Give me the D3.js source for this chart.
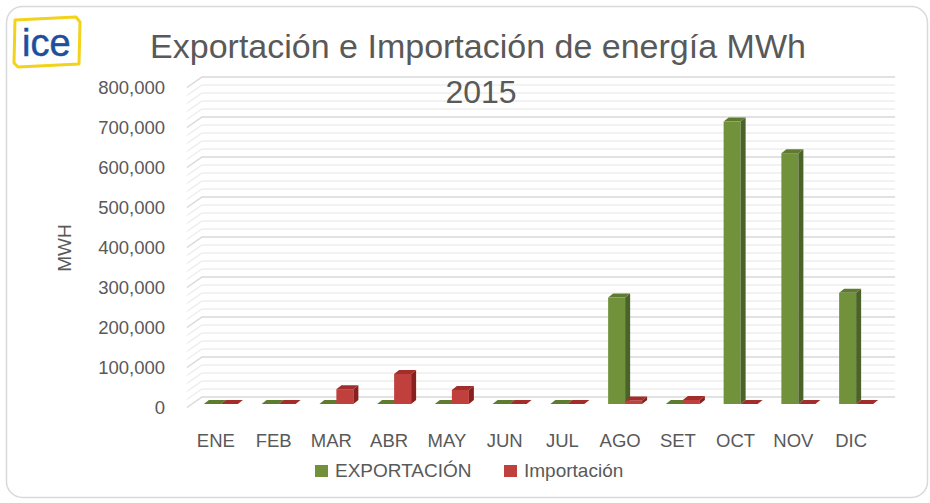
<!DOCTYPE html>
<meta charset="utf-8">
<style>
body { margin: 0; background: #fff; }
text { font-family: "Liberation Sans", Arial, sans-serif; fill: #595959; }
</style>
<body>
<script src="https://cdn.jsdelivr.net/npm/d3@7"></script>
<script>

var months = ["ENE", "FEB", "MAR", "ABR", "MAY", "JUN", "JUL", "AGO", "SET", "OCT", "NOV", "DIC"],
	exportacion = [0, 0, 0, 0, 0, 0, 0, 266000, 0, 706000, 627000, 278000],
	importacion = [0, 0, 37000, 75000, 35000, 0, 0, 9000, 10000, 0, 0, 0],
	seriesNames = ["EXPORTACIÓN", "Importación"],
	yTicks = [0, 100000, 200000, 300000, 400000, 500000, 600000, 700000, 800000];

var width = 930,
	height = 503,
	depth = [15, -10.5],      // front plane -> back wall
	barShift = [5, -3.5],     // front plane -> front face of bars
	barDepth = [5, -4],
	colors = [
		{ front: "#71913b", side: "#4a6328", top: "#5e7b30" },
		{ front: "#c0403e", side: "#87201e", top: "#a12e2b" }
	];

var svg = d3.select("body").append("svg")
	.attr("width", width)
	.attr("height", height);

// outer frame
svg.append("rect")
	.attr("x", 6.5).attr("y", 6.5)
	.attr("width", 921).attr("height", 491)
	.attr("rx", 16)
	.attr("fill", "#fff")
	.attr("stroke", "#d9d9d9")
	.attr("stroke-width", 1.5);

// logo
var logo = svg.append("g");
logo.append("path")
	.attr("d", "M15,20 L76,17 L80,22 L79,64 L18,67 L14,63 Z")
	.attr("fill", "#fff")
	.attr("stroke", "#f2d21a")
	.attr("stroke-width", 3)
	.attr("stroke-linejoin", "round");
logo.append("text")
	.attr("x", 22).attr("y", 56)
	.style("font-size", "38px")
	.style("fill", "#1d4f9d")
	.style("stroke", "#1d4f9d")
	.style("stroke-width", 0.5)
	.text("ice");

var x = d3.scaleBand()
	.domain(months)
	.range([187, 880]);

var y = d3.scaleLinear()
	.domain([0, 800000])
	.range([407.5, 87.5]);

// gridlines on side and back wall
var gridVals = d3.range(0, 800001, 20000);
svg.append("g").selectAll("polyline")
	.data(gridVals)
	.enter().append("polyline")
	.attr("points", function(d) {
		var yf = y(d), yb = yf + depth[1];
		return [x.range()[0], yf, x.range()[0] + depth[0], yb, x.range()[1] + depth[0], yb].join(" ");
	})
	.attr("fill", "none")
	.attr("stroke", function(d) { return d % 100000 === 0 ? "#d9d9d9" : "#eeeeee"; })
	.attr("stroke-width", 1.5);

// title (drawn over the wall)
svg.append("text")
	.attr("x", 478).attr("y", 58)
	.attr("text-anchor", "middle")
	.style("font-size", "34px")
	.text("Exportación e Importación de energía MWh");
svg.append("text")
	.attr("x", 481).attr("y", 103)
	.attr("text-anchor", "middle")
	.style("font-size", "32px")
	.text("2015");

// y tick labels
svg.append("g").selectAll("text")
	.data(yTicks)
	.enter().append("text")
	.attr("x", 165)
	.attr("y", function(d) { return y(d); })
	.attr("dy", "0.35em")
	.attr("text-anchor", "end")
	.style("font-size", "18.5px")
	.text(d3.format(","));

// y axis title
svg.append("text")
	.attr("transform", "translate(71,248) rotate(-90)")
	.attr("text-anchor", "middle")
	.style("font-size", "19px")
	.text("MWH");

// x labels
svg.append("g").selectAll("text")
	.data(months)
	.enter().append("text")
	.attr("x", function(d) { return x(d) + x.bandwidth() / 2; })
	.attr("y", 447)
	.attr("text-anchor", "middle")
	.style("font-size", "18.5px")
	.text(function(d) { return d; });

// 3D bars
var barW = 17;
var bars = [];
months.forEach(function(m, i) {
	[exportacion[i], importacion[i]].forEach(function(v, s) {
		bars.push({ month: m, value: v, s: s });
	});
});

var bar = svg.append("g").selectAll("g")
	.data(bars)
	.enter().append("g");

function geom(d) {
	var x0 = x(d.month) + x.bandwidth() / 2 - barW + d.s * barW + barShift[0],
		x1 = x0 + barW,
		yb = y(0) + barShift[1],
		yt = y(d.value) + barShift[1];
	return { x0: x0, x1: x1, yb: yb, yt: yt };
}

bar.append("rect")
	.attr("x", function(d) { return geom(d).x0; })
	.attr("y", function(d) { return geom(d).yt; })
	.attr("width", barW)
	.attr("height", function(d) { var g = geom(d); return g.yb - g.yt; })
	.attr("fill", function(d) { return colors[d.s].front; });

bar.append("path")
	.attr("d", function(d) {
		var g = geom(d);
		return "M" + g.x1 + "," + g.yb + "L" + g.x1 + "," + g.yt +
			"L" + (g.x1 + barDepth[0]) + "," + (g.yt + barDepth[1]) +
			"L" + (g.x1 + barDepth[0]) + "," + (g.yb + barDepth[1]) + "Z";
	})
	.attr("fill", function(d) { return colors[d.s].side; });

bar.append("path")
	.attr("d", function(d) {
		var g = geom(d);
		return "M" + g.x0 + "," + g.yt + "L" + g.x1 + "," + g.yt +
			"L" + (g.x1 + barDepth[0]) + "," + (g.yt + barDepth[1]) +
			"L" + (g.x0 + barDepth[0]) + "," + (g.yt + barDepth[1]) + "Z";
	})
	.attr("fill", function(d) { return colors[d.s].top; });

// legend
var legend = svg.append("g").selectAll("g")
	.data(seriesNames)
	.enter().append("g")
	.attr("transform", function(d, i) { return "translate(" + [315, 504][i] + ",465)"; });

legend.append("rect")
	.attr("width", 13).attr("height", 12)
	.attr("fill", function(d, i) { return colors[i].front; });

legend.append("text")
	.attr("x", 20).attr("y", 12)
	.style("font-size", "19px")
	.text(function(d) { return d; });

</script>
</body>
